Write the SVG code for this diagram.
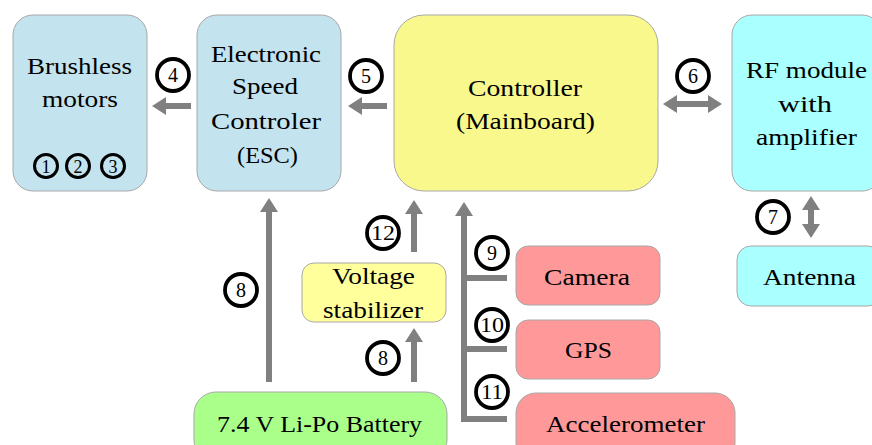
<svg xmlns="http://www.w3.org/2000/svg" width="872" height="445" viewBox="0 0 872 445">
<style>
.box{stroke:#a8a8a8;stroke-width:1}
.blue{fill:#c3e3ef}
.yellow{fill:#f8f88c}
.cyan{fill:#aaffff}
.pink{fill:#ff9999}
.green{fill:#aaff8a}
.lyellow{fill:#ffff9c}
.t{font-family:"Liberation Serif","DejaVu Serif",serif;font-size:23px;fill:#000;text-anchor:middle}
.c{fill:none;stroke:#000;stroke-width:3.8}
.cs{fill:none;stroke:#000;stroke-width:3}
.n{font-family:"Liberation Serif","DejaVu Serif",serif;font-size:20px;fill:#000;text-anchor:middle}
.ns{font-family:"Liberation Serif","DejaVu Serif",serif;font-size:18px;fill:#000;text-anchor:middle}
.a{fill:none;stroke:#808080;stroke-width:6}
</style>
<defs>
<marker id="ah" viewBox="0 0 14 18" refX="0" refY="9" markerWidth="14" markerHeight="18" markerUnits="userSpaceOnUse" orient="auto-start-reverse">
<path d="M0,0 L14,9 L0,18 Z" fill="#808080"/>
</marker>
</defs>

<g id="brushless">
<rect class="box blue" x="13" y="15" width="134" height="176" rx="20"/>
<text class="t" x="79.5" y="74" textLength="105" lengthAdjust="spacingAndGlyphs">Brushless</text>
<text class="t" x="80" y="107" textLength="76" lengthAdjust="spacingAndGlyphs">motors</text>
<circle class="cs" cx="46" cy="166" r="11.5"/>
<text class="ns" x="46" y="172.5">1</text>
<circle class="cs" cx="78" cy="166" r="11.5"/>
<text class="ns" x="78" y="172.5">2</text>
<circle class="cs" cx="113" cy="166" r="11.5"/>
<text class="ns" x="113" y="172.5">3</text>
</g>

<g id="esc">
<rect class="box blue" x="197" y="15" width="144" height="176" rx="20"/>
<text class="t" x="266" y="62" textLength="110" lengthAdjust="spacingAndGlyphs">Electronic</text>
<text class="t" x="265" y="94" textLength="66" lengthAdjust="spacingAndGlyphs">Speed</text>
<text class="t" x="266" y="129" textLength="110" lengthAdjust="spacingAndGlyphs">Controler</text>
<text class="t" x="267.5" y="163" textLength="61" lengthAdjust="spacingAndGlyphs">(ESC)</text>
</g>

<g id="controller">
<rect class="box yellow" x="394" y="15" width="264" height="176" rx="30"/>
<text class="t" x="525" y="96" textLength="114" lengthAdjust="spacingAndGlyphs">Controller</text>
<text class="t" x="525.5" y="129" textLength="139" lengthAdjust="spacingAndGlyphs">(Mainboard)</text>
</g>

<g id="rf">
<rect class="box cyan" x="732" y="15" width="150" height="176" rx="20"/>
<text class="t" x="806.5" y="78" textLength="121" lengthAdjust="spacingAndGlyphs">RF module</text>
<text class="t" x="805" y="112" textLength="54" lengthAdjust="spacingAndGlyphs">with</text>
<text class="t" x="806.5" y="145" textLength="101" lengthAdjust="spacingAndGlyphs">amplifier</text>
</g>

<g id="antenna">
<rect class="box cyan" x="737" y="246" width="145" height="60" rx="14"/>
<text class="t" x="809.5" y="285" textLength="93" lengthAdjust="spacingAndGlyphs">Antenna</text>
</g>

<g id="stabilizer">
<rect class="box lyellow" x="302" y="263" width="144" height="59" rx="12"/>
<text class="t" x="373.5" y="284" textLength="83" lengthAdjust="spacingAndGlyphs">Voltage</text>
<text class="t" x="373" y="318" textLength="100" lengthAdjust="spacingAndGlyphs">stabilizer</text>
</g>

<g id="battery">
<rect class="box green" x="194" y="392" width="253" height="70" rx="22"/>
<text class="t" x="319.5" y="432" textLength="205" lengthAdjust="spacingAndGlyphs">7.4 V Li-Po Battery</text>
</g>

<g id="camera">
<rect class="box pink" x="516" y="246" width="144" height="59" rx="12"/>
<text class="t" x="587" y="285" textLength="86" lengthAdjust="spacingAndGlyphs">Camera</text>
</g>

<g id="gps">
<rect class="box pink" x="516" y="320" width="144" height="59" rx="12"/>
<text class="t" x="588.5" y="358" textLength="47" lengthAdjust="spacingAndGlyphs">GPS</text>
</g>

<g id="accelerometer">
<rect class="box pink" x="516" y="393" width="219" height="70" rx="20"/>
<text class="t" x="625.5" y="432" textLength="159" lengthAdjust="spacingAndGlyphs">Accelerometer</text>
</g>

<g id="connectors">
<line class="a" x1="191" y1="106" x2="166" y2="106" marker-end="url(#ah)"/>
<line class="a" x1="387" y1="106" x2="362" y2="106" marker-end="url(#ah)"/>
<line class="a" x1="677" y1="104" x2="708" y2="104" marker-start="url(#ah)" marker-end="url(#ah)"/>
<line class="a" x1="811" y1="210" x2="811" y2="224" marker-start="url(#ah)" marker-end="url(#ah)"/>
<line class="a" x1="269" y1="382" x2="269" y2="212" marker-end="url(#ah)"/>
<line class="a" x1="414" y1="252" x2="414" y2="214" marker-end="url(#ah)"/>
<line class="a" x1="414" y1="382" x2="414" y2="342" marker-end="url(#ah)"/>
<path class="a" d="M507,278 H464 M507,349 H464" />
<path class="a" d="M507,419 H464 V216" marker-end="url(#ah)"/>
</g>

<g id="labels">
<circle class="c" cx="173" cy="75" r="16"/><text class="n" x="173" y="82">4</text>
<circle class="c" cx="366" cy="76" r="16"/><text class="n" x="366" y="83">5</text>
<circle class="c" cx="693" cy="76" r="16"/><text class="n" x="693" y="83">6</text>
<circle class="c" cx="773" cy="217" r="16"/><text class="n" x="773" y="224">7</text>
<circle class="c" cx="241" cy="290" r="16"/><text class="n" x="241" y="297">8</text>
<circle class="c" cx="383" cy="233" r="16"/><text class="n" x="383" y="240" textLength="24" lengthAdjust="spacingAndGlyphs">12</text>
<circle class="c" cx="383" cy="358" r="16"/><text class="n" x="383" y="365">8</text>
<circle class="c" cx="492" cy="253" r="16"/><text class="n" x="492" y="260">9</text>
<circle class="c" cx="492" cy="325" r="16"/><text class="n" x="492" y="332" textLength="24" lengthAdjust="spacingAndGlyphs">10</text>
<circle class="c" cx="492" cy="392" r="16"/><text class="n" x="492" y="399" textLength="22" lengthAdjust="spacingAndGlyphs">11</text>
</g>
</svg>
